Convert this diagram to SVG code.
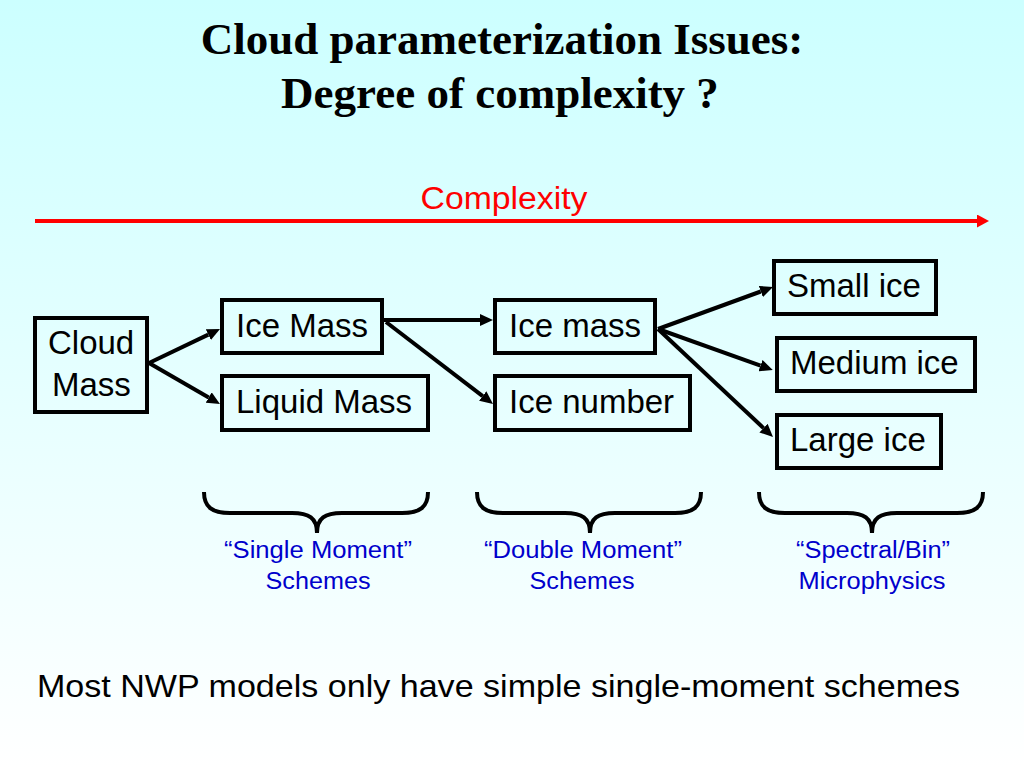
<svg xmlns="http://www.w3.org/2000/svg" xmlns:xlink="http://www.w3.org/1999/xlink" width="1024" height="768" viewBox="0 0 1024 768">
<defs>
<linearGradient id="bg" x1="0" y1="0" x2="0" y2="1">
<stop offset="0" stop-color="#CCFFFF"/>
<stop offset="1" stop-color="#FFFFFF"/>
</linearGradient>
<marker id="ah" markerUnits="userSpaceOnUse" markerWidth="13" markerHeight="12" refX="0" refY="6" orient="auto" viewBox="0 0 13 12">
<path d="M0,0 L13,6 L0,12 z" fill="#000"/>
</marker>
<marker id="ahr" markerUnits="userSpaceOnUse" markerWidth="12" markerHeight="13" refX="0" refY="6.5" orient="auto" viewBox="0 0 12 13">
<path d="M0,0 L12,6.5 L0,13 z" fill="#FF0000"/>
</marker>
<path id="brace" d="M0,0 C0,15 8,21 26,21 L88,21 C105,21 113,26 113,41 C113,26 121,21 138,21 L198,21 C216,21 224,15 224,0"/>
</defs>
<style>
.box{fill:none;stroke:#000;stroke-width:4}
.t{font-family:"Liberation Sans",Arial,sans-serif;font-size:33px;fill:#000}
.lbl{font-family:"Liberation Sans",Arial,sans-serif;font-size:23px;fill:#0000CC;text-anchor:middle}
.con{stroke:#000;stroke-width:4;fill:none;marker-end:url(#ah)}
.br{fill:none;stroke:#000;stroke-width:4}
</style>
<rect width="1024" height="768" fill="url(#bg)"/>

<g id="title" font-family="'Liberation Serif','Times New Roman',serif" font-weight="bold" font-size="45" text-anchor="middle" fill="#000">
<text x="502" y="54">Cloud parameterization Issues:</text>
<text x="500" y="108">Degree of complexity ?</text>
</g>

<g id="complexity-axis">
<text x="504" y="209" font-family="'Liberation Sans',Arial,sans-serif" font-size="31" fill="#FF0000" text-anchor="middle" textLength="167" lengthAdjust="spacingAndGlyphs">Complexity</text>
<line x1="35" y1="221" x2="977" y2="221" stroke="#FF0000" stroke-width="4" marker-end="url(#ahr)"/>
</g>

<g id="connectors">
<line class="con" x1="149" y1="363" x2="208.3" y2="334.6"/>
<line class="con" x1="149" y1="363" x2="208.7" y2="397.5"/>
<line class="con" x1="384" y1="320" x2="480" y2="320"/>
<line class="con" x1="386" y1="322" x2="482.7" y2="396.1"/>
<line class="con" x1="658" y1="329" x2="760.8" y2="291.5"/>
<line class="con" x1="658" y1="329" x2="760.5" y2="365.6"/>
<line class="con" x1="658" y1="329" x2="763.5" y2="428.1"/>
</g>

<g id="cloud-mass">
<rect class="box" x="35" y="318" width="112" height="94"/>
<text class="t" x="48" y="354">Cloud</text>
<text class="t" x="52" y="396">Mass</text>
</g>
<g id="ice-mass-1">
<rect class="box" x="222" y="300" width="160" height="53"/>
<text class="t" x="236" y="337">Ice Mass</text>
</g>
<g id="liquid-mass">
<rect class="box" x="222" y="376" width="206" height="54"/>
<text class="t" x="236" y="413">Liquid Mass</text>
</g>
<g id="ice-mass-2">
<rect class="box" x="495" y="300" width="160" height="53"/>
<text class="t" x="509" y="337">Ice mass</text>
</g>
<g id="ice-number">
<rect class="box" x="495" y="376" width="195" height="54"/>
<text class="t" x="509" y="413">Ice number</text>
</g>
<g id="small-ice">
<rect class="box" x="774" y="261" width="162" height="53"/>
<text class="t" x="787" y="297">Small ice</text>
</g>
<g id="medium-ice">
<rect class="box" x="777" y="338" width="198" height="53"/>
<text class="t" x="790" y="374">Medium ice</text>
</g>
<g id="large-ice">
<rect class="box" x="777" y="415" width="164" height="53"/>
<text class="t" x="790" y="451">Large ice</text>
</g>

<g id="brace-single">
<use xlink:href="#brace" class="br" x="204" y="492"/>
<text class="lbl" x="318" y="558" textLength="188" lengthAdjust="spacingAndGlyphs">“Single Moment”</text>
<text class="lbl" x="318" y="589" textLength="105" lengthAdjust="spacingAndGlyphs">Schemes</text>
</g>
<g id="brace-double">
<use xlink:href="#brace" class="br" x="477" y="492"/>
<text class="lbl" x="583" y="558" textLength="198" lengthAdjust="spacingAndGlyphs">“Double Moment”</text>
<text class="lbl" x="582" y="589" textLength="105" lengthAdjust="spacingAndGlyphs">Schemes</text>
</g>
<g id="brace-spectral">
<use xlink:href="#brace" class="br" x="759" y="492"/>
<text class="lbl" x="873" y="558" textLength="154" lengthAdjust="spacingAndGlyphs">“Spectral/Bin”</text>
<text class="lbl" x="872" y="589" textLength="147" lengthAdjust="spacingAndGlyphs">Microphysics</text>
</g>

<text id="footer" x="37" y="697" font-family="'Liberation Sans',Arial,sans-serif" font-size="32" fill="#000" textLength="923" lengthAdjust="spacingAndGlyphs">Most NWP models only have simple single-moment schemes</text>
</svg>
